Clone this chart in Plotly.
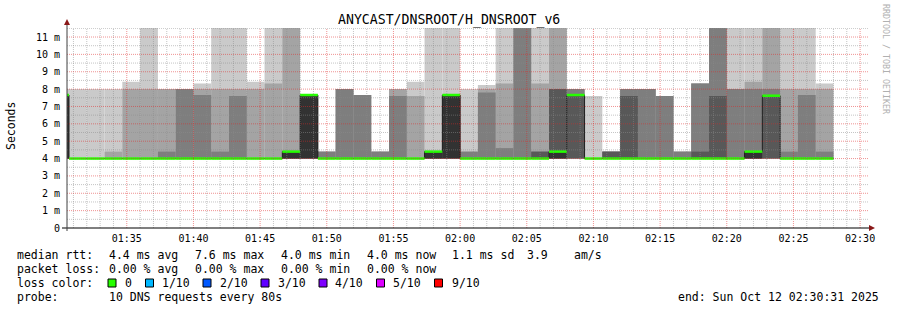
import pandas as pd
import plotly.graph_objects as go

# ---------------- data ----------------
first_block = "2025-10-12 01:29:20"   # start of first 80 s step (partially visible)
step_seconds = 80
view_start = "2025-10-12 01:30:31"
view_end = "2025-10-12 02:30:31"

# smoke layers (ms): sorted pings, outermost pair -> innermost pair
ping_max = [8.0, 8.0, 8.0, 8.0, 8.43, 12, 8.0, 8.0, 8.33, 12, 12, 8.43, 12, 12, 7.66, 4.4,
            8.0, 7.66, 4.4, 8.0, 8.43, 12, 12, 8.0, 8.24, 12, 12, 12, 12, 8.0, 7.6, 4.4,
            8.0, 8.0, 7.6, 4.4, 8.33, 12, 12, 12, 12, 12, 12, 8.33]
ping_9 = [7.66, 4.0, 4.0, 4.4, 8.0, 8.0, 8.0, 8.0, 8.0, 8.0, 8.0, 8.0, 8.33, 12, 7.66, 4.4,
          8.0, 7.66, 4.4, 8.0, 7.6, 4.4, 7.66, 4.4, 8.0, 8.33, 12, 8.33, 12, 8.0, 4.0, 4.4,
          8.0, 8.0, 7.6, 4.4, 8.33, 12, 8.0, 8.43, 12, 8.0, 8.0, 8.0]
ping_8 = [7.66, 4.0, 4.0, 4.0, 4.0, 4.0, 4.4, 8.0, 7.66, 4.4, 7.6, 4.0, 4.0, 4.4, 7.66, 4.4,
          8.0, 7.66, 4.4, 7.6, 4.0, 4.4, 7.66, 4.4, 7.8, 4.6, 12, 4.4, 8.0, 8.0, 4.0, 4.4,
          8.0, 8.0, 7.6, 4.4, 8.33, 12, 8.0, 8.0, 8.0, 4.4, 7.66, 4.4]
ping_7 = [7.66, 4.0, 4.0, 4.0, 4.0, 4.0, 4.0, 4.0, 4.0, 4.0, 4.0, 4.0, 4.0, 4.4, 7.66, 4.0,
          4.0, 4.0, 4.0, 4.0, 4.0, 4.4, 7.66, 4.0, 4.0, 4.0, 4.0, 4.4, 8.0, 7.66, 4.0, 4.4,
          7.6, 4.0, 4.0, 4.0, 4.4, 7.6, 4.0, 4.4, 7.62, 4.0, 4.0, 4.0]
median_rtt = [7.66, 4.0, 4.0, 4.0, 4.0, 4.0, 4.0, 4.0, 4.0, 4.0, 4.0, 4.0, 4.0, 4.4, 7.66, 4.0,
              4.0, 4.0, 4.0, 4.0, 4.0, 4.4, 7.66, 4.0, 4.0, 4.0, 4.0, 4.0, 4.4, 7.66, 4.0, 4.0,
              4.0, 4.0, 4.0, 4.0, 4.0, 4.0, 4.0, 4.4, 7.62, 4.0, 4.0, 4.0]
ping_5 = [4.0, 4.0, 4.0, 4.0, 4.0, 4.0, 4.0, 4.0, 4.0, 4.0, 4.0, 4.0, 4.0, 4.0, 4.0, 4.0,
          4.0, 4.0, 4.0, 4.0, 4.0, 4.0, 4.0, 4.0, 4.0, 4.0, 4.0, 4.0, 4.0, 7.66, 4.0, 4.0,
          4.0, 4.0, 4.0, 4.0, 4.0, 4.0, 4.0, 4.0, 7.62, 4.0, 4.0, 4.0]
ping_min = [4.0] * len(ping_max)

y_tick_values = list(range(0, 12))
y_tick_labels = ["0"] + [f"{v} m" for v in range(1, 12)]

stats_rtt = ["4.4 ms avg", "7.6 ms max", "4.0 ms min", "4.0 ms now", "1.1 ms sd", "3.9", "am/s"]
stats_loss = ["0.00 % avg", "0.00 % max", "0.00 % min", "0.00 % now"]
loss_labels = ["0", "1/10", "2/10", "3/10", "4/10", "5/10", "9/10"]
loss_colors = ["#26ff00", "#00b8ff", "#0059ff", "#5e00ff", "#7e00ff", "#dd00ff", "#ff0000"]
title_text = "ANYCAST/DNSROOT/H_DNSROOT_v6"
probe_text = "10 DNS requests every 80s"
end_text = "end: Sun Oct 12 02:30:31 2025"

# ---------------- geometry helpers ----------------
W, H = 897, 310
L, R, T, B = 67, 30, 28, 82
PW, PH = W - L - R, H - T - B
MONO = "DejaVu Sans Mono"


def xp(px):
    return (px - L) / PW


def yp(py):
    return (H - B - py) / PH


n = len(ping_max)
starts = pd.date_range(first_block, periods=n, freq=f"{step_seconds}s")
ends = starts + pd.Timedelta(seconds=step_seconds)
centers = starts + pd.Timedelta(seconds=step_seconds / 2)
width_ms = step_seconds * 1000

fig = go.Figure()

layers = [
    (ping_min, ping_max, "#cacaca"),
    (ping_min, ping_9, "#a4a4a4"),
    (ping_min, ping_8, "#7e7e7e"),
    (ping_min, ping_7, "#585858"),
    (ping_5, median_rtt, "#323232"),
]
for lo, hi, col in layers:
    fig.add_trace(go.Bar(
        x=centers, base=lo, y=[h - l for h, l in zip(hi, lo)], width=width_ms,
        marker=dict(color=col, line=dict(width=0)), showlegend=False, hoverinfo="skip"))

# thin dark median step line
fig.add_trace(go.Scatter(
    x=list(starts) + [ends[-1]], y=median_rtt + [median_rtt[-1]], mode="lines",
    line=dict(color="#202020", width=1, shape="hv"), showlegend=False, hoverinfo="skip"))

# loss-coloured median (horizontal segments)
gx, gy = [], []
for s, e, m in zip(starts, ends, median_rtt):
    gx += [s, e, None]
    gy += [m, m, None]
fig.add_trace(go.Scatter(
    x=gx, y=gy, mode="lines", line=dict(color=loss_colors[0], width=2.5),
    showlegend=False, hoverinfo="skip"))

# ---------------- grid (drawn above the smoke, like rrdtool) ----------------
shapes = []
minor_col = "rgba(140,140,140,0.5)"
major_col = "rgba(225,40,40,0.5)"
dash = "1px,1px"
t0 = pd.Timestamp("2025-10-12 01:31:00")
for i in range(60):
    t = t0 + pd.Timedelta(minutes=i)
    major = (t.minute % 5 == 0)
    shapes.append(dict(type="line", xref="x", yref="paper", x0=t, x1=t, y0=0, y1=1,
                       line=dict(color=major_col if major else minor_col, width=1, dash=dash),
                       layer="above"))
for j in range(1, 24):
    v = j * 0.5
    major = (j % 2 == 0)
    shapes.append(dict(type="line", xref="paper", yref="y", x0=0, x1=1.002, y0=v, y1=v,
                       line=dict(color=major_col if major else minor_col, width=1, dash=dash),
                       layer="above"))

# axes lines + arrows
shapes.append(dict(type="line", xref="paper", yref="paper", x0=xp(62), x1=xp(870),
                   y0=0, y1=0, line=dict(color="#000000", width=1), layer="above"))
shapes.append(dict(type="line", xref="paper", yref="paper", x0=0, x1=0,
                   y0=yp(231), y1=yp(24), line=dict(color="#404040", width=1), layer="above"))
shapes.append(dict(type="path", xref="paper", yref="paper",
                   path=f"M {xp(64)} {yp(25)} L {xp(70)} {yp(25)} L {xp(67)} {yp(19)} Z",
                   fillcolor="#8a1818", line=dict(width=0), layer="above"))
shapes.append(dict(type="path", xref="paper", yref="paper",
                   path=f"M {xp(869)} {yp(225)} L {xp(869)} {yp(231)} L {xp(875)} {yp(228)} Z",
                   fillcolor="#8a1818", line=dict(width=0), layer="above"))

# loss colour boxes
box_left = [108, 145.5, 203, 261, 319, 376.5, 434.5]
label_left = [122.5, 160, 217.5, 275.5, 333, 391, 449.5]
for bx, col in zip(box_left, loss_colors):
    shapes.append(dict(type="rect", xref="paper", yref="paper",
                       x0=xp(bx), x1=xp(bx + 8), y0=yp(279), y1=yp(287),
                       fillcolor=col, line=dict(color="#000000", width=1)))

# ---------------- text ----------------
ann = []


def txt(text, px, py, size=11.5, anchor="left", color="#000000", angle=0):
    ann.append(dict(text=text, xref="paper", yref="paper", x=xp(px), y=yp(py),
                    xanchor=anchor, yanchor="middle", showarrow=False, textangle=angle,
                    font=dict(family=MONO, size=size, color=color)))


txt(title_text, 448.5, 20, size=13.2, anchor="center")
txt("Seconds", 11, 126, size=11.5, anchor="center", angle=-90)
txt("RRDTOOL / TOBI OETIKER", 886, 59, size=8.3, anchor="center", color="#b0b0b0", angle=90)

row1, row2, row3, row4 = 254.5, 268.5, 282.5, 296.5
txt("median rtt:", 15, row1)
for s, x in zip(stats_rtt, [106.5, 192.5, 278.5, 364.5, 450, 524.5, 571.5]):
    txt(s, x, row1)
txt("packet loss:", 15, row2)
for s, x in zip(stats_loss, [106.5, 192.5, 278.5, 364.5]):
    txt(s, x, row2)
txt("loss color:", 15, row3)
for s, x in zip(loss_labels, label_left):
    txt(s, x, row3)
txt("probe:", 15, row4)
txt(probe_text, 106.5, row4)
txt(end_text, 881, row4, anchor="right")

fig.update_layout(
    width=W, height=H, margin=dict(l=L, r=R, t=T, b=B, pad=0),
    paper_bgcolor="#ffffff", plot_bgcolor="#ffffff",
    barmode="overlay", showlegend=False,
    shapes=shapes, annotations=ann,
    xaxis=dict(type="date", range=[view_start, view_end], tickformat="%H:%M",
               dtick=300000, tick0="2025-10-12 01:35:00", showgrid=False, zeroline=False,
               showline=False, ticks="", ticklabelstandoff=3,
               tickfont=dict(family=MONO, size=10, color="#000000")),
    yaxis=dict(range=[0, 11.52], tickvals=y_tick_values, ticktext=y_tick_labels,
               showgrid=False, zeroline=False, showline=False, ticks="",
               ticklabelstandoff=6, tickfont=dict(family=MONO, size=10, color="#000000")),
)

fig.write_html("out.html")
